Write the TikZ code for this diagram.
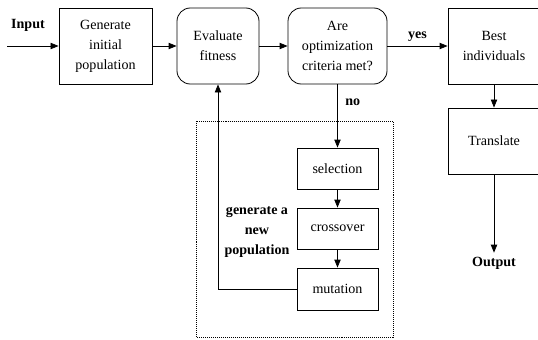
\documentclass[tikz,border=0pt]{standalone}
\usepackage{fontspec}
\setmainfont{Liberation Serif}
\usetikzlibrary{arrows.meta}
\tikzset{
  stage/.style={draw, line width=0.7pt, align=center, inner sep=0pt,
    font=\fontsize{12}{17}\selectfont},
  rstage/.style={stage, rounded corners=0.4cm},
  flow/.style={line width=0.7pt, -{Triangle[length=2.4mm,width=1.9mm]}},
  lbl/.style={font=\fontsize{12}{17}\selectfont\bfseries, align=center}
}
\begin{document}
\begin{tikzpicture}[x=0.03cm, y=-0.03cm]
\useasboundingbox (0,0) rectangle (538,339);

% dotted loop area
\draw[densely dotted, line width=0.7pt] (196,121) rectangle (393,337);

% main row
\node[stage, minimum width=2.79cm, minimum height=2.28cm] (gen) at (105.5,46) {Generate\\initial\\population};
\node[rstage, minimum width=2.46cm, minimum height=2.28cm] (eval) at (218,46) {Evaluate\\fitness};
\node[rstage, minimum width=2.97cm, minimum height=2.28cm] (crit) at (337.5,46) {Are\\optimization\\criteria met?};
\node[stage, minimum width=2.76cm, minimum height=2.28cm] (best) at (494,46) {Best\\individuals};
\node[stage, minimum width=2.76cm, minimum height=1.98cm] (trans) at (494,141) {Translate};

% genetic operators
\node[stage, minimum width=2.43cm, minimum height=1.23cm] (sel) at (337.5,168.5) {selection};
\node[stage, minimum width=2.43cm, minimum height=1.23cm] (cross) at (337.5,228.5) {crossover};
\node[stage, minimum width=2.43cm, minimum height=1.26cm] (mut) at (337.5,289) {mutation};

% labels
\node[lbl] (in) at (28,25) {Input};
\node[lbl] (out) at (494,263) {Output};
\node[lbl] (newpop) at (257,232) {generate a\\new\\population};
\coordinate (start) at (7,46);

% connectors
\draw[flow] (start) -- (gen);
\draw[flow] (gen) -- (eval);
\draw[flow] (eval) -- (crit);
\draw[flow] (crit) -- node[lbl, above] {yes} (best);
\draw[flow] (best) -- (trans);
\draw[flow] (trans) -- (out);
\draw[flow] (crit) -- node[lbl, pos=0.28, right=3pt] {no} (sel);
\draw[flow] (sel) -- (cross);
\draw[flow] (cross) -- (mut);
\draw[flow] (mut.west) -| (eval.south);

\end{tikzpicture}
\end{document}
